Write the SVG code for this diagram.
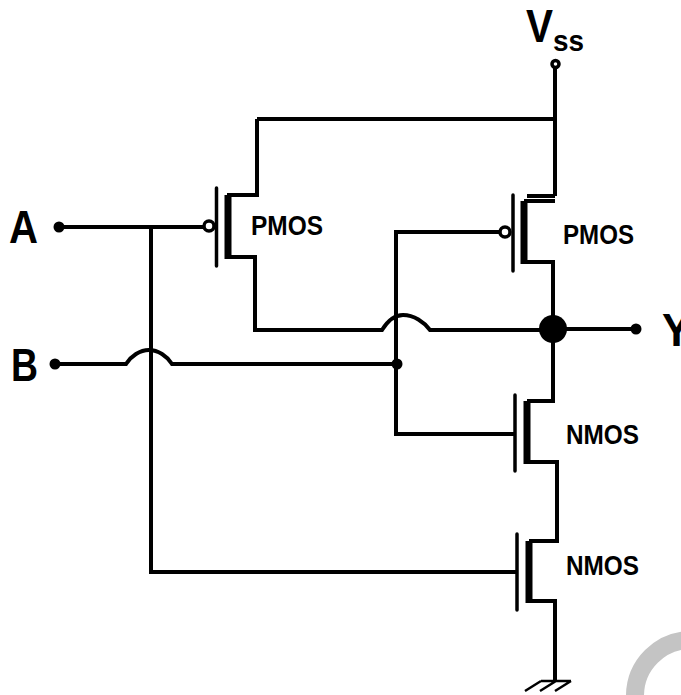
<svg xmlns="http://www.w3.org/2000/svg" width="681" height="695" viewBox="0 0 681 695">
<style>
.w{fill:none;stroke:#000;stroke-width:4}
.g{fill:none;stroke:#000;stroke-width:3.5;stroke-linecap:round}
.c{fill:none;stroke:#000;stroke-width:7}
.b{fill:#fff;stroke:#000;stroke-width:3.5}
.d{fill:#000}
text{font-family:"Liberation Sans",Arial,sans-serif;font-weight:bold;fill:#000}
.l{font-size:27px}
.t{font-size:46px}
</style>
<rect width="681" height="695" fill="#fff"/>
<circle cx="691" cy="696" r="56" fill="none" stroke="#c4c4c4" stroke-width="18"/>
<g id="connectors">
<path class="w" d="M555 66V120M257 119H555V196M555 196H527"/>
<path class="w" d="M59 227H204M151 227V572H517"/>
<path class="w" d="M55 364H126C131 356 140 350 149 350C158 350 167 356 172 364H397"/>
<path class="w" d="M227 195H257V119M227 257H255V330H382C387 322 394 315 403 315C414 315 424 322 430 330H553"/>
<path class="w" d="M505 232H396V434H515"/>
<path class="w" d="M524 201H555M524 262H553V401H527M527 462H557V541H529M529 601H555V680"/>
<path class="w" d="M553 329H636"/>
</g>
<g id="pmos1">
<line class="g" x1="216.500" y1="188" x2="216.500" y2="266"/>
<line class="c" x1="228" y1="195" x2="228" y2="259"/>
<circle class="b" cx="209" cy="226" r="5"/>
<text class="l" x="251" y="235" textLength="72" lengthAdjust="spacingAndGlyphs">PMOS</text>
</g>
<g id="pmos2">
<line class="g" x1="513" y1="195" x2="513" y2="271"/>
<line class="c" x1="524" y1="201" x2="524" y2="264"/>
<circle class="b" cx="505" cy="232" r="5"/>
<text class="l" x="563" y="244" textLength="71" lengthAdjust="spacingAndGlyphs">PMOS</text>
</g>
<g id="nmos1">
<line class="g" x1="515" y1="395" x2="515" y2="471"/>
<line class="c" x1="527" y1="401" x2="527" y2="464"/>
<text class="l" x="566" y="444" textLength="73" lengthAdjust="spacingAndGlyphs">NMOS</text>
</g>
<g id="nmos2">
<line class="g" x1="517" y1="534" x2="517" y2="610"/>
<line class="c" x1="529" y1="541" x2="529" y2="603"/>
<text class="l" x="566" y="575" textLength="73" lengthAdjust="spacingAndGlyphs">NMOS</text>
</g>
<g id="junctions">
<circle class="d" cx="59" cy="227" r="5.500"/>
<circle class="d" cx="55" cy="364" r="5.500"/>
<circle class="d" cx="397" cy="364" r="5.500"/>
<circle class="d" cx="553" cy="329" r="14"/>
<circle class="d" cx="636" cy="329" r="5.500"/>
</g>
<g id="vss">
<circle class="b" cx="555.500" cy="64" r="3.500"/>
<text class="t" x="526" y="42" textLength="27" lengthAdjust="spacingAndGlyphs">V</text>
<text x="553" y="51" font-size="29" textLength="31" lengthAdjust="spacingAndGlyphs">ss</text>
</g>
<g id="a"><text class="t" x="9" y="243" textLength="29" lengthAdjust="spacingAndGlyphs">A</text></g>
<g id="b"><text class="t" x="11" y="381" textLength="27" lengthAdjust="spacingAndGlyphs">B</text></g>
<g id="y"><text class="t" x="662" y="346" textLength="29" lengthAdjust="spacingAndGlyphs">Y</text></g>
<g id="ground">
<path fill="none" stroke="#000" stroke-width="2.500" d="M541 681H571M541 681L525 691M556 681L540 691M571 681L555 691"/>
</g>
</svg>
